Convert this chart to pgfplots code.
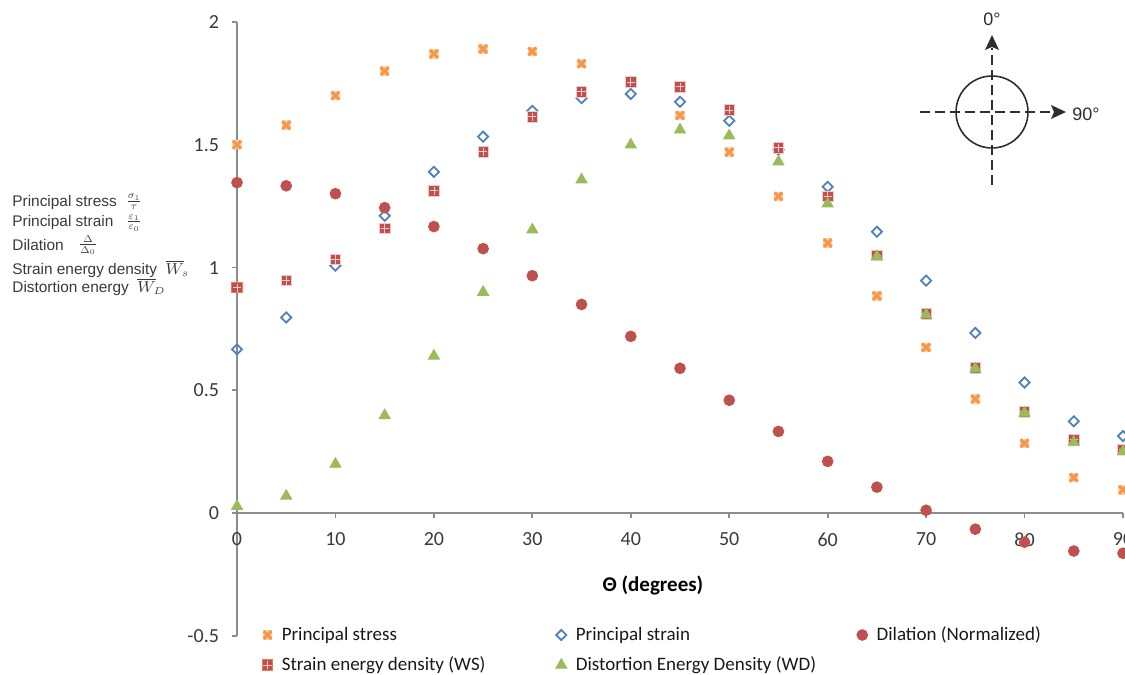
\documentclass[border=0pt]{standalone}
\usepackage{fontspec}
\setmainfont{Carlito}
\newfontfamily\arialfont{Liberation Sans}
\usepackage{pgfplots}
\usepackage{pgfplotstable}
\pgfplotsset{compat=1.18}
\usetikzlibrary{arrows.meta}

\definecolor{cStress}{HTML}{F79646}
\definecolor{cStrain}{HTML}{4F81BD}
\definecolor{cDil}{HTML}{C0504D}
\definecolor{cWS}{HTML}{C0504D}
\definecolor{cWD}{HTML}{9BBB59}
\definecolor{axgray}{HTML}{8C8C8C}
\definecolor{txt}{HTML}{3A3A3A}
\definecolor{compass}{HTML}{2E2E2E}

% filled square crossed by a pale plus
\pgfdeclareplotmark{sqplus}{%
  \pgfpathrectangle{\pgfpoint{-\pgfplotmarksize}{-\pgfplotmarksize}}{\pgfpoint{2\pgfplotmarksize}{2\pgfplotmarksize}}%
  \pgfusepathqfillstroke
  \pgfsetlinewidth{0.35pt}%
  \pgfsetstrokecolor{white!70!cWS}%
  \pgfpathmoveto{\pgfpoint{-0.8\pgfplotmarksize}{0pt}}\pgfpathlineto{\pgfpoint{0.8\pgfplotmarksize}{0pt}}%
  \pgfpathmoveto{\pgfpoint{0pt}{-0.8\pgfplotmarksize}}\pgfpathlineto{\pgfpoint{0pt}{0.8\pgfplotmarksize}}%
  \pgfusepathqstroke
}
% bold cross on a pale square
\pgfdeclareplotmark{boldx}{%
  \pgfsetfillcolor{cStress!45}%
  \pgfpathrectangle{\pgfpoint{-0.9\pgfplotmarksize}{-0.9\pgfplotmarksize}}{\pgfpoint{1.8\pgfplotmarksize}{1.8\pgfplotmarksize}}%
  \pgfusepathqfill
  \pgfsetlinewidth{1.5pt}%
  \pgfsetstrokecolor{cStress}%
  \pgfpathmoveto{\pgfpoint{-0.75\pgfplotmarksize}{-0.75\pgfplotmarksize}}\pgfpathlineto{\pgfpoint{0.75\pgfplotmarksize}{0.75\pgfplotmarksize}}%
  \pgfpathmoveto{\pgfpoint{-0.75\pgfplotmarksize}{0.75\pgfplotmarksize}}\pgfpathlineto{\pgfpoint{0.75\pgfplotmarksize}{-0.75\pgfplotmarksize}}%
  \pgfusepathqstroke
}

\pgfplotstableread{
theta stress strain dil    ws    wd
0     1.50   0.667  1.346  0.918 0.028
5     1.58   0.797  1.333  0.947 0.070
10    1.70   1.008  1.301  1.033 0.200
15    1.80   1.211  1.244  1.159 0.398
20    1.87   1.390  1.167  1.313 0.640
25    1.89   1.533  1.077  1.472 0.900
30    1.88   1.638  0.967  1.614 1.154
35    1.83   1.690  0.850  1.716 1.358
40    1.75   1.707  0.720  1.756 1.500
45    1.62   1.675  0.590  1.736 1.561
50    1.47   1.598  0.460  1.642 1.537
55    1.29   1.480  0.333  1.488 1.431
60    1.10   1.329  0.211  1.289 1.260
65    0.885  1.146  0.106  1.049 1.045
70    0.675  0.947  0.012  0.812 0.808
75    0.465  0.734 -0.065  0.592 0.588
80    0.285  0.532 -0.118  0.413 0.408
85    0.145  0.374 -0.154  0.300 0.288
90    0.095  0.314 -0.163  0.260 0.250
}\datatable

\begin{document}
\begin{tikzpicture}
\path[use as bounding box] (0,0) rectangle (562.5pt,337.5pt);

\begin{axis}[
  at={(118.5pt,19.5pt)}, anchor=south west,
  scale only axis, width=443pt, height=307pt,
  xmin=0, xmax=90, ymin=-0.5, ymax=2,
  axis x line=middle, axis y line=left,
  axis line style={axgray, line width=0.9pt, -},
  xtick={0,10,20,30,40,50,60,70,80,90},
  xticklabels={0,10,20,30,40,50,60,70,80,90},
  ytick={-0.5,0,0.5,1,1.5,2},
  yticklabels={-0.5,0,0.5,1,1.5,2},
  hide obscured x ticks=false, hide obscured y ticks=false,
  tick align=outside, major tick length=2.5pt,
  tick style={axgray, line width=0.9pt},
  ticklabel style={font=\fontsize{10}{12}\selectfont, text=txt},
  xticklabel style={yshift=-3.7pt},
  yticklabel style={xshift=-3pt},
  xlabel={\textbf{Θ (degrees)}},
  xlabel style={at={(axis description cs:0.4695,0.083)}, anchor=center,
    font=\fontsize{10.5}{12}\selectfont, text=black},
  clip=false,
  legend columns=3,
  legend image code/.code={%
    \draw[mark repeat=2,mark phase=2,#1] plot coordinates {(0pt,2.7pt)(3pt,2.7pt)(6pt,2.7pt)};},
  legend style={
    at={(axis description cs:0.0282,0.0163)}, anchor=north west,
    draw=none, fill=none, inner sep=0pt,
    font=\fontsize{9.5}{11}\selectfont, text=black!90,
    nodes={inner sep=0pt, text height=7pt, text depth=2pt, anchor=base west},
    row sep=6pt,
    /tikz/every odd column/.append style={column sep=4.5pt},
  },
  legend cell align=left,
]
\addplot[only marks, mark=boldx, mark size=2.6pt] table[x=theta, y=stress] {\datatable};
\addlegendentry{\makebox[137pt][l]{Principal stress}}
\addplot[only marks, mark=square, mark size=1.8pt,
  mark options={rotate=45, draw=cStrain, fill=white, line width=0.9pt}]
  table[x=theta, y=strain] {\datatable};
\addlegendentry{\makebox[140.5pt][l]{Principal strain}}
\addplot[only marks, mark=*, mark size=2.7pt,
  mark options={draw=cDil, fill=cDil}] table[x=theta, y=dil] {\datatable};
\addlegendentry{Dilation (Normalized)}
\addplot[only marks, mark=sqplus, mark size=2.6pt,
  mark options={draw=cStress!70!cWS, fill=cWS, line width=0.5pt}]
  table[x=theta, y=ws] {\datatable};
\addlegendentry{\makebox[137pt][l]{Strain energy density (WS)}}
\addplot[only marks, mark=triangle*, mark size=3.2pt,
  mark options={draw=cWD, fill=cWD}] table[x=theta, y=wd] {\datatable};
\addlegendentry{\makebox[140.5pt][l]{Distortion Energy Density (WD)}}
\end{axis}

% quantities named beside the vertical axis
\begin{scope}[every node/.style={anchor=west, inner sep=0pt, text=txt,
    font=\arialfont\fontsize{7.7}{9}\selectfont}]
  \node at (6pt,236pt) {Principal stress};
  \node at (6pt,226pt) {Principal strain};
  \node at (6pt,215pt) {Dilation};
  \node at (6pt,203pt) {Strain energy density \ $\overline{W}_{\!s}$};
  \node at (6pt,194pt) {Distortion energy \ $\overline{W}_{\!D}$};
\end{scope}
\begin{scope}[every node/.style={anchor=center, inner sep=0pt, text=txt, scale=0.72}]
  \node at (67pt,236.5pt) {$\frac{\sigma_1}{\tau}$};
  \node at (67pt,226pt) {$\frac{\varepsilon_1}{\varepsilon_0}$};
  \node at (44pt,215pt) {$\frac{\Delta}{\Delta_0}$};
\end{scope}

% orientation sketch
\begin{scope}[compass]
  \draw[line width=0.8pt] (496pt,281.5pt) circle[radius=18pt];
  \draw[line width=0.7pt, dash pattern=on 5pt off 2.5pt] (496pt,245pt) -- (496pt,313.5pt);
  \fill (496pt,320pt) -- (492.5pt,312.5pt) -- (496pt,314pt) -- (499.5pt,312.5pt) -- cycle;
  \draw[line width=0.7pt, dash pattern=on 5pt off 2.5pt] (460pt,281.5pt) -- (526pt,281.5pt);
  \fill (533pt,281.5pt) -- (525.5pt,285pt) -- (527pt,281.5pt) -- (525.5pt,278pt) -- cycle;
  \node[font=\arialfont\fontsize{9}{10}\selectfont, text=compass] at (496pt,328pt) {0°};
  \node[anchor=west, inner sep=0pt, font=\arialfont\fontsize{9}{10}\selectfont, text=compass] at (536pt,280.5pt) {90°};
\end{scope}
\end{tikzpicture}
\end{document}
